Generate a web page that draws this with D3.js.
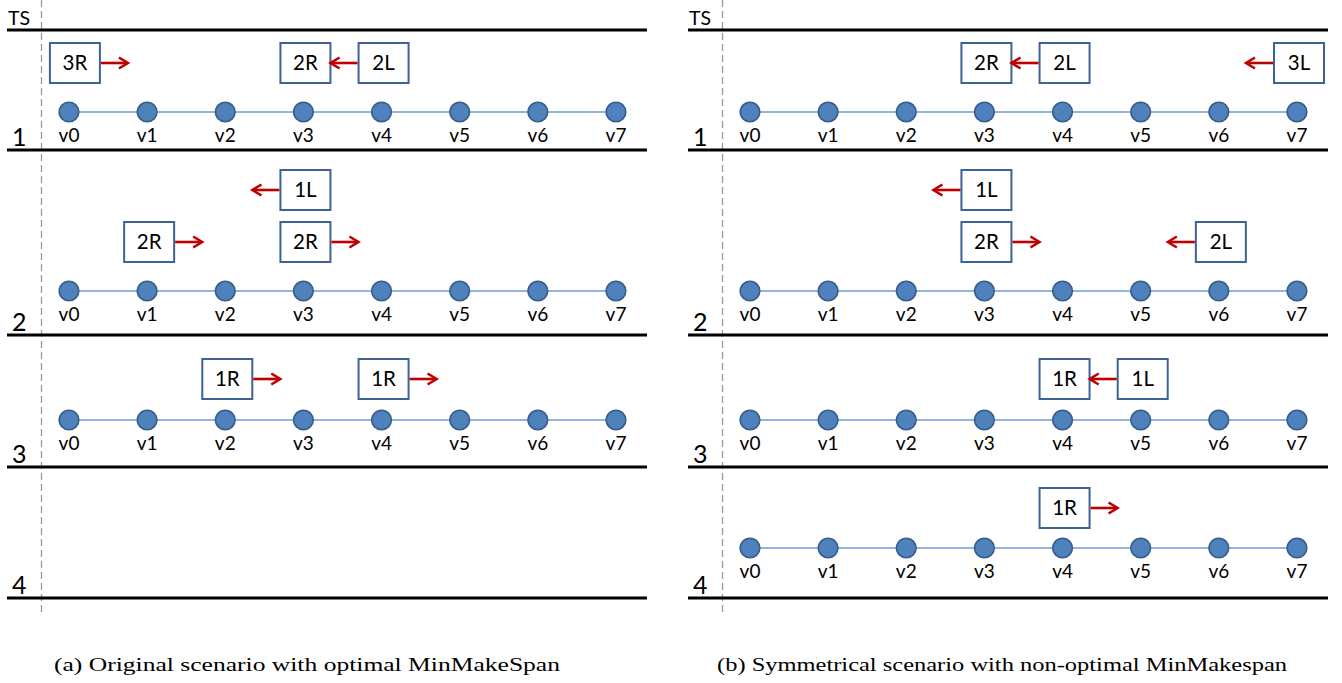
<!DOCTYPE html>
<html><head><meta charset="utf-8">
<script src="https://cdn.jsdelivr.net/npm/d3@7"></script>
<style>body{margin:0;background:#fff}svg{display:block}</style>
</head><body>
<script>
// ---------- data ----------
const nodeLabels = ['v0','v1','v2','v3','v4','v5','v6','v7'];
const timeSteps = [1, 2, 3, 4];
const captions = ['(a) Original scenario with optimal MinMakeSpan',
                  '(b) Symmetrical scenario with non-optimal MinMakespan'];
// agents: ts = time step, at = node index, lane = 1 (near nodes) / 2 (upper), dir = arrow direction
const agentsA = [
  {ts:1, at:0.05, lane:1, label:'3R', dir:'R'},
  {ts:1, at:3, lane:1, label:'2R', dir:null},
  {ts:1, at:4, lane:1, label:'2L', dir:'L'},
  {ts:2, at:3, lane:2, label:'1L', dir:'L'},
  {ts:2, at:1, lane:1, label:'2R', dir:'R'},
  {ts:2, at:3, lane:1, label:'2R', dir:'R'},
  {ts:3, at:2, lane:1, label:'1R', dir:'R'},
  {ts:3, at:4, lane:1, label:'1R', dir:'R'}
];
const agentsB = [
  {ts:1, at:3, lane:1, label:'2R', dir:null},
  {ts:1, at:4, lane:1, label:'2L', dir:'L'},
  {ts:1, at:7, lane:1, label:'3L', dir:'L'},
  {ts:2, at:3, lane:2, label:'1L', dir:'L'},
  {ts:2, at:3, lane:1, label:'2R', dir:'R'},
  {ts:2, at:6, lane:1, label:'2L', dir:'L'},
  {ts:3, at:4, lane:1, label:'1R', dir:null},
  {ts:3, at:5, lane:1, label:'1L', dir:'L'},
  {ts:4, at:4, lane:1, label:'1R', dir:'R'}
];
const rowsShownA = [1, 2, 3];      // time steps with a node row in panel (a)
const rowsShownB = [1, 2, 3, 4];

// ---------- layout ----------
const W = 1342, H = 683;
const sepY = [30, 150, 335, 467, 598];           // separator lines (TS header, after step 1..4)
const nodeY = {1:112, 2:291, 3:420, 4:548};
const laneOff = {1:{1:-49,2:-101}, 2:{1:-49,2:-101}, 3:{1:-41,2:-93}, 4:{1:-40,2:-92}};
const panels = [
  {dx:0, agents:agentsA, rows:rowsShownA, caption:captions[0], capX:307, capW:506},
  {dx:681, agents:agentsB, rows:rowsShownB, caption:captions[1], capX:1002, capW:570}
];
const font = "Lato, 'Open Sans', sans-serif";
const BOXW = 50, BOXH = 40, ARROW = 28;

const svg = d3.select('body').append('svg').attr('width', W).attr('height', H);

panels.forEach(p => {
  const g = svg.append('g').attr('transform', `translate(${p.dx},0)`);
  const x = d3.scaleLinear().domain([0, nodeLabels.length - 1]).range([69, 616]);

  // dashed vertical
  g.append('line').attr('x1', 41.5).attr('x2', 41.5).attr('y1', 0).attr('y2', 614)
    .attr('stroke', '#9a9a9a').attr('stroke-width', 1.3).attr('stroke-dasharray', '7,4');

  // separators
  g.selectAll('line.sep').data(sepY).join('line').attr('class', 'sep')
    .attr('x1', 7).attr('x2', 647).attr('y1', d => d).attr('y2', d => d)
    .attr('stroke', '#000').attr('stroke-width', 3.2);

  g.append('text').attr('x', 8).attr('y', 25).text('TS')
    .attr('font-family', font).attr('font-size', 19.5).attr('fill', '#000');

  g.selectAll('text.ts').data(timeSteps).join('text').attr('class', 'ts')
    .attr('x', 12).attr('y', (d, i) => sepY[i + 1] - 4).text(d => d)
    .attr('font-family', font).attr('font-size', 25).attr('fill', '#000');

  // node rows
  p.rows.forEach(ts => {
    const y = nodeY[ts];
    g.append('line').attr('x1', x(0)).attr('x2', x(nodeLabels.length - 1))
      .attr('y1', y).attr('y2', y).attr('stroke', '#6f9bd3').attr('stroke-width', 1.3);
    g.selectAll(null).data(nodeLabels).join('circle')
      .attr('cx', (d, i) => x(i)).attr('cy', y).attr('r', 9.8)
      .attr('fill', '#4f81bd').attr('stroke', '#385d8a').attr('stroke-width', 1.6);
    g.selectAll(null).data(nodeLabels).join('text')
      .attr('x', (d, i) => x(i)).attr('y', y + 30).attr('text-anchor', 'middle')
      .text(d => d).attr('font-family', font).attr('font-size', 19).attr('fill', '#000');
  });

  // agents
  const ag = g.selectAll('g.agent').data(p.agents).join('g').attr('class', 'agent')
    .attr('transform', d => `translate(${x(d.at) + 2},${nodeY[d.ts] + laneOff[d.ts][d.lane]})`);
  ag.append('rect').attr('x', -BOXW / 2).attr('y', -BOXH / 2).attr('width', BOXW).attr('height', BOXH)
    .attr('fill', '#fff').attr('stroke', '#3c6394').attr('stroke-width', 2);
  ag.append('text').attr('x', 0).attr('y', 7).attr('text-anchor', 'middle').text(d => d.label)
    .attr('font-family', font).attr('font-size', 20.5).attr('fill', '#000');
  const arrows = ag.filter(d => d.dir);
  arrows.append('line')
    .attr('x1', d => d.dir === 'R' ? BOXW / 2 + 1 : -BOXW / 2 - 1)
    .attr('x2', d => d.dir === 'R' ? BOXW / 2 + ARROW - 1 : -BOXW / 2 - ARROW + 1)
    .attr('y1', 0).attr('y2', 0).attr('stroke', '#c00000').attr('stroke-width', 2.6);
  arrows.append('path')
    .attr('d', d => {
      const s = d.dir === 'R' ? 1 : -1;
      const tx = s * (BOXW / 2 + ARROW);
      return `M${tx - s * 9},-5.5 L${tx},0 L${tx - s * 9},5.5`;
    })
    .attr('fill', 'none').attr('stroke', '#c00000').attr('stroke-width', 2.6)
    .attr('stroke-linejoin', 'miter');

  // caption
  svg.append('text').attr('x', p.capX).attr('y', 671).attr('text-anchor', 'middle')
    .text(p.caption).attr('font-family', "'Liberation Serif', 'DejaVu Serif', serif")
    .attr('font-size', 18).attr('fill', '#000')
    .attr('textLength', p.capW).attr('lengthAdjust', 'spacingAndGlyphs');
});
</script>
</body></html>
